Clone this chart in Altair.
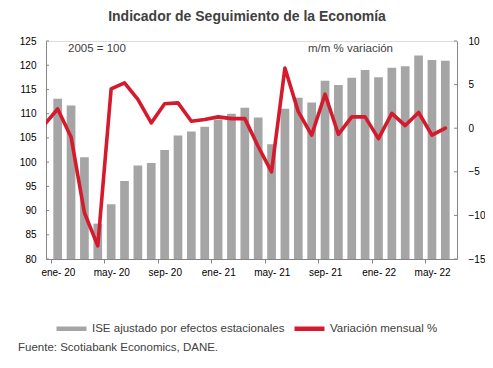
import json
import altair as alt
import pandas as pd

# ---- data ----
months = ["ene-20", "feb-20", "mar-20", "abr-20", "may-20", "jun-20", "jul-20", "ago-20",
          "sep-20", "oct-20", "nov-20", "dic-20", "ene-21", "feb-21", "mar-21", "abr-21",
          "may-21", "jun-21", "jul-21", "ago-21", "sep-21", "oct-21", "nov-21", "dic-21",
          "ene-22", "feb-22", "mar-22", "abr-22", "may-22", "jun-22"]
ise = [113.1, 111.7, 101.0, 87.3, 91.3, 96.1, 99.3, 99.8, 102.5, 105.5, 106.3, 107.3,
       108.8, 110.0, 111.2, 109.2, 103.7, 111.0, 113.3, 112.3, 116.8, 115.9, 117.4, 119.0,
       117.5, 119.5, 119.8, 122.0, 121.1, 120.9]
# line series starts one month earlier (dic-19 is only visible as a stub at the axis)
line_months = ["dic-19"] + months
variacion = [0.4, 2.2, -1.0, -9.7, -13.5, 4.5, 5.2, 3.3, 0.6, 2.8, 2.9, 0.8, 1.0, 1.3, 1.1,
             1.1, -2.1, -5.0, 6.9, 1.9, -0.8, 3.9, -0.7, 1.3, 1.3, -1.2, 1.7, 0.3, 1.8, -0.8, 0.0]
x_tick_labels = ["ene- 20", "may- 20", "sep- 20", "ene- 21", "may- 21", "sep- 21", "ene- 22", "may- 22"]
left_ticks = [80, 85, 90, 95, 100, 105, 110, 115, 120, 125]
right_ticks = [-15, -10, -5, 0, 5, 10]
series_names = ["ISE ajustado por efectos estacionales", "Variación mensual %"]
series_colors = ["#A5A5A5", "#D41A2C"]

title_text = "Indicador de Seguimiento de la Economía"
note_left = "2005 = 100"
note_right = "m/m % variación"
source_text = "Fuente: Scotiabank Economics, DANE."

# ---- tables ----
bars_df = pd.DataFrame({"mes": months, "pos": [i + 0.5 for i in range(len(months))],
                        "valor": ise, "serie": series_names[0]})
line_df = pd.DataFrame({"mes": line_months, "pos": [i - 0.5 for i in range(len(line_months))],
                        "valor": variacion, "serie": series_names[1]})
lt_df = pd.DataFrame({"v": left_ticks})
rt_df = pd.DataFrame({"v": right_ticks})
one = pd.DataFrame({"a": [0]})

W, H = 411, 218
FONT = "Liberation Sans"
TXT = "#404040"
AX = "#868686"

color_scale = alt.Scale(domain=series_names, range=series_colors)
legend = alt.Legend(title=None, orient="none", legendX=8, legendY=270, direction="horizontal",
                    symbolType="stroke", symbolSize=900, symbolStrokeWidth=4.5,
                    labelFont=FONT, labelFontSize=11.5, labelColor=TXT,
                    columnPadding=0, labelOffset=3, labelLimit=400)

x_enc = alt.X("pos:Q", scale=alt.Scale(domain=[0, 30], nice=False, zero=False),
              axis=alt.Axis(title=None, values=[0, 4, 8, 12, 16, 20, 24, 28],
                            labelExpr=f"{json.dumps(x_tick_labels)}[round(datum.value/4)]",
                            labelOffset=W / 30 / 2, labelFlush=False, labelOverlap=False,
                            ticks=True, tickSize=4, tickColor=AX, domainColor=AX,
                            labelPadding=4, grid=False))

left_scale = alt.Scale(domain=[80, 125], nice=False, zero=False)
right_scale = alt.Scale(domain=[-15, 10], nice=False, zero=False)

bars = alt.Chart(bars_df).mark_bar(fill=series_colors[0], strokeWidth=0, size=8.7, clip=True).encode(
    x=x_enc,
    y=alt.Y("valor:Q", scale=left_scale,
            axis=alt.Axis(title=None, orient="left", values=left_ticks, ticks=False,
                          labelPadding=10, domainColor=AX, grid=False)),
    y2=alt.datum(80),
    stroke=alt.Stroke("serie:N", scale=color_scale, legend=legend),
)

line = alt.Chart(line_df).mark_line(strokeWidth=3.6, strokeJoin="round", strokeCap="round", clip=True).encode(
    x=x_enc,
    y=alt.Y("valor:Q", scale=right_scale,
            axis=alt.Axis(title=None, orient="right", values=right_ticks, ticks=False,
                          labelPadding=11, domainColor=AX, grid=False)),
    stroke=alt.Stroke("serie:N", scale=color_scale, legend=legend),
)

lticks = alt.Chart(lt_df).mark_rule(color=AX, strokeWidth=1).encode(
    y=alt.Y("v:Q", scale=left_scale, axis=None), x=alt.value(0), x2=alt.value(3))
rticks = alt.Chart(rt_df).mark_rule(color=AX, strokeWidth=1).encode(
    y=alt.Y("v:Q", scale=right_scale, axis=None), x=alt.value(W - 3), x2=alt.value(W))

title = alt.Chart(one).mark_text(text=title_text, font=FONT, fontSize=14, fontWeight="bold",
                                 color=TXT, align="center", baseline="alphabetic").encode(
    x=alt.value(201), y=alt.value(-20))
n1 = alt.Chart(one).mark_text(text=note_left, font=FONT, fontSize=11.5, color=TXT,
                              align="left", baseline="alphabetic").encode(x=alt.value(22), y=alt.value(10.5))
n2 = alt.Chart(one).mark_text(text=note_right, font=FONT, fontSize=11.5, color=TXT,
                              align="left", baseline="alphabetic").encode(x=alt.value(262), y=alt.value(10.5))
src = alt.Chart(one).mark_text(text=source_text, font=FONT, fontSize=11.5, color=TXT,
                               align="left", baseline="alphabetic").encode(x=alt.value(-28), y=alt.value(310))

chart = alt.layer(bars, line, lticks, rticks, title, n1, n2, src).resolve_scale(
    y="independent"
).properties(
    width=W, height=H,
    autosize=alt.AutoSizeParams(type="none"),
    padding={"left": 38, "top": 33, "right": 28, "bottom": 101},
).configure_view(stroke=None).configure_axis(
    labelFont=FONT, labelFontSize=11.5, labelColor=TXT
).configure(background="white")

chart.save("out.html", embed_options={"renderer": "svg", "actions": False})
